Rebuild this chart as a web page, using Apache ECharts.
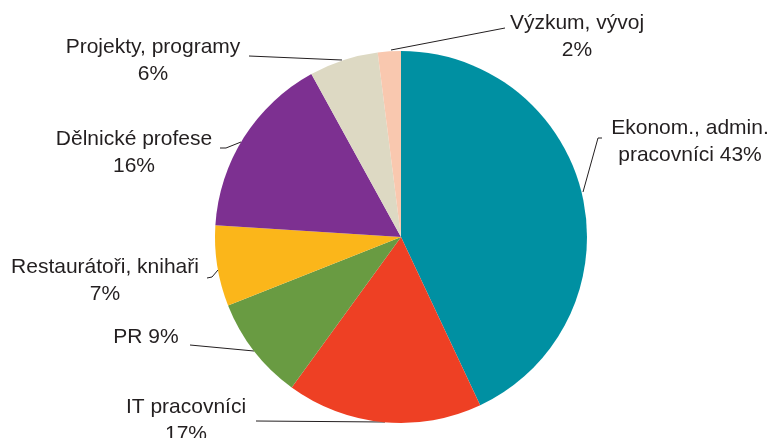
<!DOCTYPE html>
<html>
<head>
<meta charset="utf-8">
<script src="https://cdn.jsdelivr.net/npm/echarts@6/dist/echarts.min.js"></script>
<style>
  html, body { margin: 0; padding: 0; background: #fff; }
  #chart { width: 773px; height: 438px; }
</style>
</head>
<body>
<div id="chart"></div>
<script>
// slices, clockwise from 12 o'clock
const categories = [
  'Ekonom., admin.\npracovníci 43%',
  'IT pracovníci\n17%',
  'PR 9%',
  'Restaurátoři, knihaři\n7%',
  'Dělnické profese\n16%',
  'Projekty, programy\n6%',
  'Výzkum, vývoj\n2%'
];
const shares = [43, 17, 9, 7, 16, 6, 2];
const colors = ['#0090A2', '#EE4024', '#699B42', '#FBB61A', '#7D3091', '#DDD9C3', '#F9C8AF'];

// where each label sits (text centre) and its leader line
const labelSpots = [
  { x: 690, y: 142, line: [[583, 192], [598, 138], [602, 138]] },
  { x: 186, y: 421, line: [[385, 422], [256, 421]] },
  { x: 146, y: 337, line: [[254, 351], [190, 345]] },
  { x: 105, y: 281, line: [[218, 270], [212, 277], [207, 278]] },
  { x: 134, y: 153, line: [[241, 142], [226, 148], [220, 148]] },
  { x: 153, y: 61, line: [[342, 60], [249, 56]] },
  { x: 577, y: 37, line: [[391, 50], [505, 28]] }
];

const chart = echarts.init(document.getElementById('chart'));

chart.setOption({
  animation: false,
  color: colors,
  series: [{
    type: 'pie',
    center: [401, 237],
    radius: 186,
    startAngle: 90,
    clockwise: true,
    data: categories.map((name, i) => ({ name, value: shares[i] })),
    itemStyle: { borderWidth: 0 },
    label: {
      show: true,
      formatter: '{b}',
      fontFamily: 'Liberation Sans, Arial, sans-serif',
      fontSize: 21,
      lineHeight: 27,
      color: '#231F20',
      align: 'center',
      overflow: 'none'
    },
    labelLine: {
      show: true,
      lineStyle: { color: '#231F20', width: 1 }
    },
    labelLayout: (params) => {
      const spot = labelSpots[params.dataIndex];
      return {
        x: spot.x,
        y: spot.y,
        align: 'center',
        verticalAlign: 'middle',
        labelLinePoints: spot.line
      };
    }
  }]
});
</script>
</body>
</html>
